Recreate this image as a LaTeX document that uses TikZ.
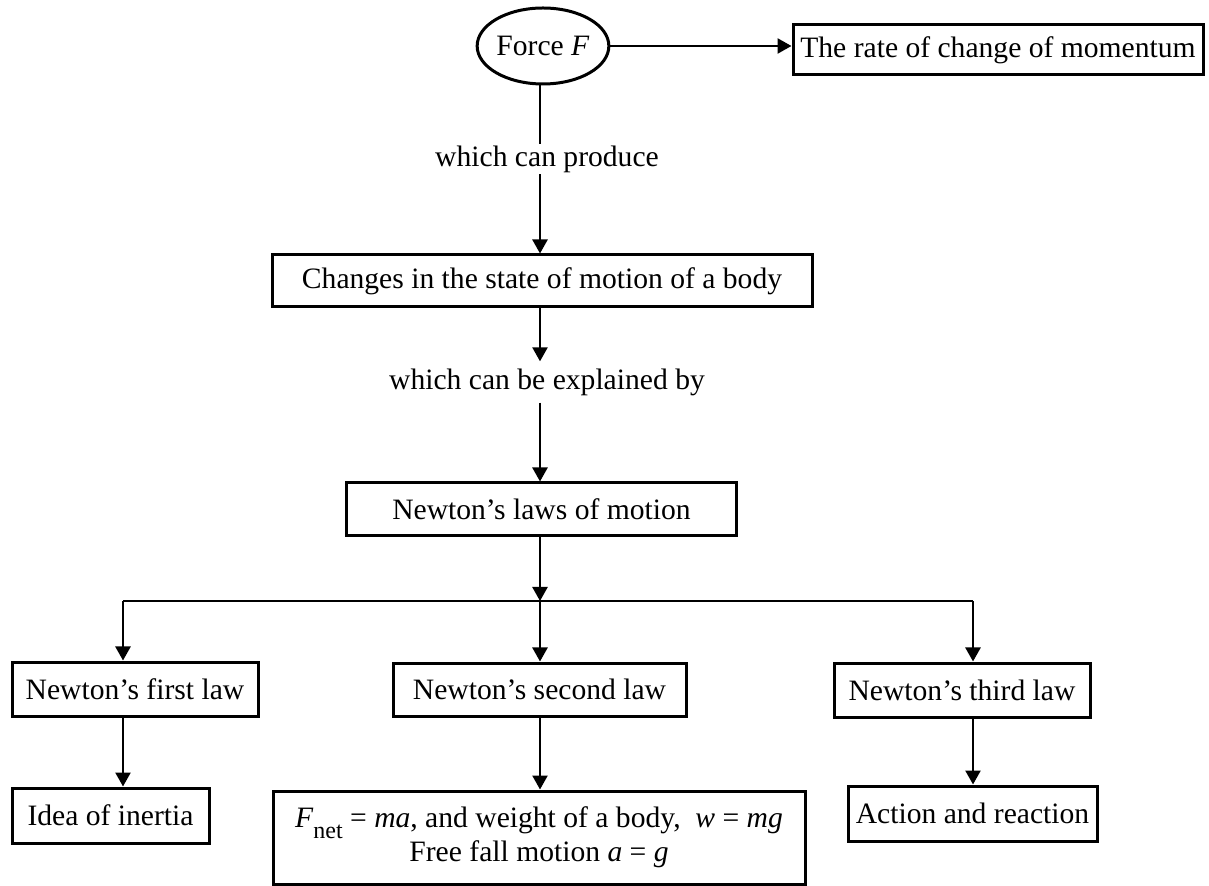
\documentclass[tikz,border=0pt]{standalone}
\usepackage{fontspec}
\setmainfont{Liberation Serif}
\usetikzlibrary{arrows.meta,shapes.geometric}

\tikzset{
  box/.style={draw, line width=1.5pt, rectangle, inner sep=0pt, align=center},
  oval/.style={draw, line width=1.5pt, ellipse, inner sep=0pt},
  lbl/.style={fill=white, inner sep=2pt},
}

\begin{document}
\begin{tikzpicture}[x=0.5pt, y=-0.5pt, >={Triangle[length=7pt,width=7.5pt]}, line width=1.2pt,
    font=\fontsize{14.8}{18}\selectfont]
    \useasboundingbox (0,0) rectangle (1209,886);
    \coordinate (spine) at (540,0);

    % Top row
    \node[oval, minimum width=57pt, minimum height=38pt] (F) at (543,46) {Force \textit{F}};
    \node[box, minimum width=205pt, minimum height=25pt] (rate) at (998,50) {The rate of change of momentum};
    \draw[->] (F.east) -- (F.east -| rate.west);

    % Middle column
    \node[box, minimum width=270pt, minimum height=26pt] (chg) at (542,281) {Changes in the state of motion of a body};
    \node[box, minimum width=195pt, minimum height=26.5pt] (laws) at (541.5,509.5) {Newton’s laws of motion};

    \draw[->] (F.south -| spine) -- (chg.north -| spine);
    \node[lbl, inner ysep=1pt] (lblA) at (547,159) {which can produce};

    \node[lbl, inner sep=3pt] (lblB) at (547,382) {which can be explained by};
    \draw[->] (chg.south -| spine) -- (lblB.north -| spine);
    \draw[->] (lblB.south -| spine) -- (laws.north -| spine);

    % Branches
    \coordinate (j) at (540,601);
    \coordinate (jL) at (123,601);
    \coordinate (jR) at (973,601);
    \draw[->] (laws.south -| spine) -- (j);
    \draw (jL) -- (jR);

    \node[box, minimum width=123pt, minimum height=27pt] (first) at (135,689) {Newton’s first law};
    \node[box, minimum width=146.5pt, minimum height=26.5pt] (second) at (539.5,689.5) {Newton’s second law};
    \node[box, minimum width=128pt, minimum height=27pt] (third) at (962,690) {Newton’s third law};

    \draw[->] (jL) -- (jL |- first.north);
    \draw[->] (j) -- (j |- second.north);
    \draw[->] (jR) -- (jR |- third.north);

    % Bottom row
    \node[box, minimum width=98.5pt, minimum height=27.5pt] (inertia) at (110.5,815.5) {Idea of inertia};
    \node[box, minimum width=266pt, minimum height=46.5pt] (fnet) at (539,837.5)
        {\textit{F}\raisebox{-0.35em}{\fontsize{12}{12}\selectfont net} = \textit{ma}, and weight of a body,\ \ \textit{w} = \textit{mg}\\[-1pt]
         Free fall motion \textit{a} = \textit{g}};
    \node[box, minimum width=124.5pt, minimum height=27.5pt] (action) at (972.5,813.5) {Action and reaction};

    \draw[->] (jL |- first.south) -- (jL |- inertia.north);
    \draw[->] (j |- second.south) -- (j |- fnet.north);
    \draw[->] (jR |- third.south) -- (jR |- action.north);
\end{tikzpicture}
\end{document}
